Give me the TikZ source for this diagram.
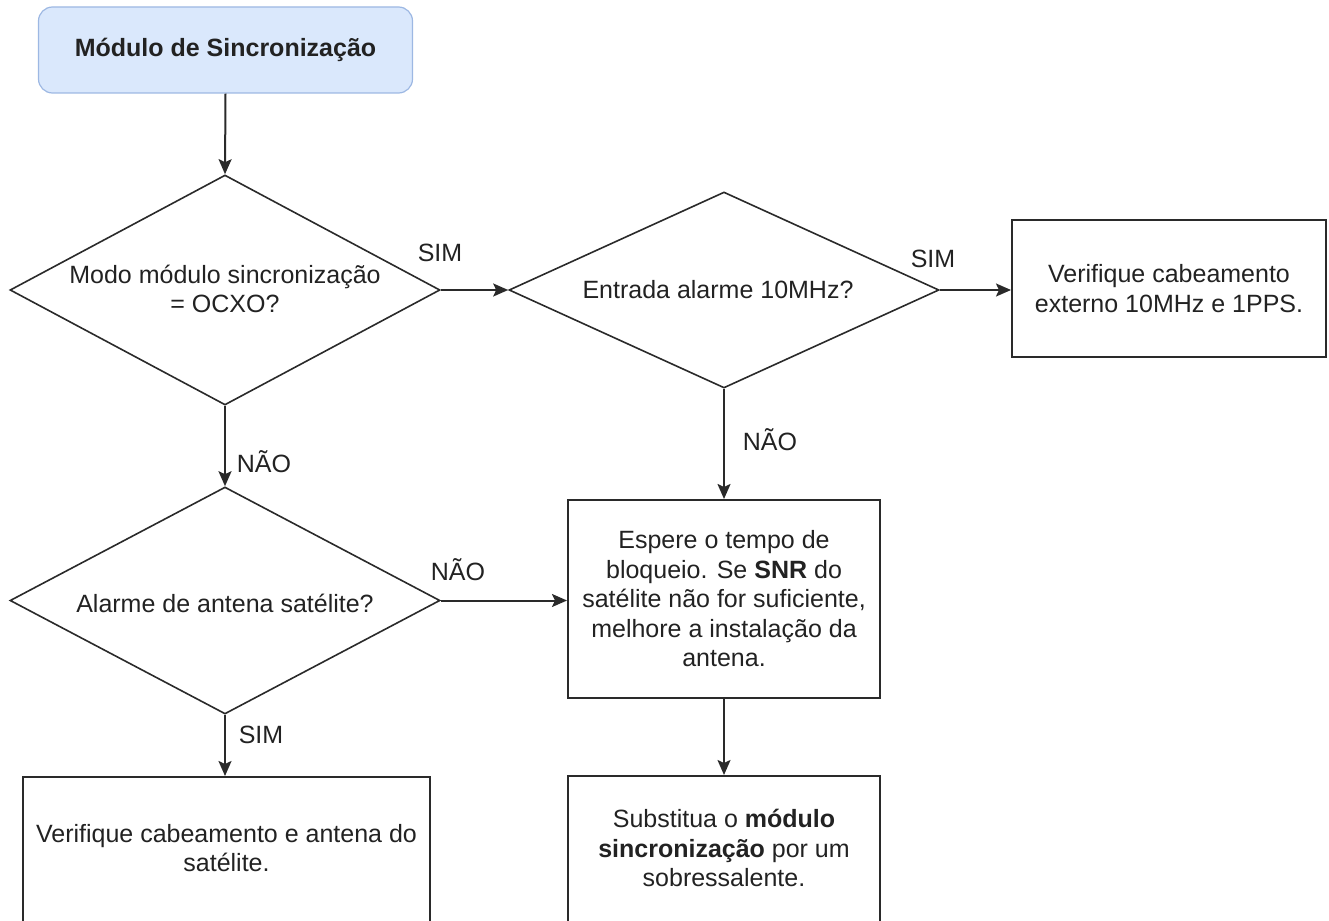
\documentclass[tikz,border=0pt]{standalone}
\usepackage{fontspec}
\setmainfont{Liberation Sans}
\usetikzlibrary{shapes.geometric,arrows.meta}
\definecolor{ln}{HTML}{2A2A2A}
\definecolor{tx}{HTML}{222222}
\definecolor{tfill}{HTML}{DAE8FC}
\definecolor{tstroke}{HTML}{9DB8E3}
\begin{document}
\begin{tikzpicture}[x=1pt,y=-1pt,
  every node/.style={font=\fontsize{25}{29.5}\selectfont, text=tx},
  box/.style={draw=ln, line width=2pt, rectangle, inner sep=0, align=center},
  dia/.style={draw=ln, line width=1.6pt, diamond, inner sep=0},
  txt/.style={align=center, inner sep=0},
  conn/.style={draw=ln, line width=2pt, -{Stealth[length=15pt,width=13pt,inset=3pt]}},
  lbl/.style={inner sep=0}]
\useasboundingbox (0,0) rectangle (1329,920);
% nodes
\node[draw=tstroke, fill=tfill, line width=1.2pt, rounded corners=14pt, rectangle,
      minimum width=374pt, minimum height=86pt, inner sep=0, font=\fontsize{25}{29.5}\selectfont\bfseries]
      (title) at (225.5,50) {Módulo de Sincronização};
\node[dia, minimum width=430pt, minimum height=230pt] (d1) at (225,290) {};
\node[txt] (d1t) at (225,289) {Modo módulo sincronização\\= OCXO?};
\node[dia, minimum width=430pt, minimum height=196pt] (d2) at (724,290) {};
\node[txt] (d2t) at (718,290) {Entrada alarme 10MHz?};
\node[dia, minimum width=430pt, minimum height=227pt] (d3) at (225,600.5) {};
\node[txt] (d3t) at (225,603) {Alarme de antena satélite?};
\node[box, minimum width=314pt, minimum height=137pt] (b1) at (1169,288.5)
      {Verifique cabeamento\\externo 10MHz e 1PPS.};
\node[box, minimum width=312pt, minimum height=198pt] (b2) at (724,599)
      {Espere o tempo de\\bloqueio. Se \textbf{SNR} do\\satélite não for suficiente,\\melhore a instalação da\\antena.};
\node[box, minimum width=312pt, minimum height=146pt] (b3) at (724,849) {};
\node[txt] (b3t) at (724,848) {Substitua o \textbf{módulo}\\\textbf{sincronização} por um\\sobressalente.};
\node[box, minimum width=407pt, minimum height=146pt] (b4) at (226.5,850) {};
\node[txt] (b4t) at (226.5,848) {Verifique cabeamento e antena do\\satélite.};
% connectors
\draw[conn] (title.south) -- (d1.north);
\draw[conn] (d1.east) -- (d2.west);
\draw[conn] (d2.east) -- (d2.east -| b1.west);
\draw[conn] (d2.south) -- (b2.north);
\draw[conn] (d1.south) -- (d3.north);
\draw[conn] (d3.east) -- (d3.east -| b2.west);
\draw[conn] (d3.south) -- (d3.south |- b4.north);
\draw[conn] (b2.south) -- (b3.north);
% labels
\node[lbl] (l1) at (440,253) {SIM};
\node[lbl] (l2) at (933,259) {SIM};
\node[lbl] (l3) at (770,440) {NÃO};
\node[lbl] (l4) at (264,462) {NÃO};
\node[lbl] (l5) at (458,570) {NÃO};
\node[lbl] (l6) at (261,735) {SIM};
\end{tikzpicture}
\end{document}
